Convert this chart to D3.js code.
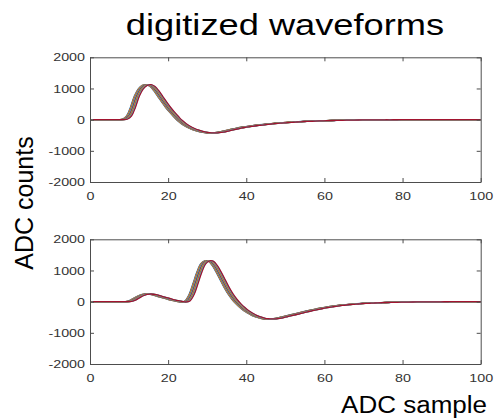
<!DOCTYPE html>
<html>
<head>
<meta charset="utf-8">
<script src="https://cdn.jsdelivr.net/npm/d3@7"></script>
<style>
  body { margin: 0; background: #fff; }
  text { font-family: "Liberation Sans", Arial, sans-serif; }
</style>
</head>
<body>
<script>
// waveform, one value per ADC sample (0..100)
let samples = d3.range(0, 101);

let waveTop = [
    0, 0, 0, 0, 0, 0, 0, 0, 0, 20,
    120, 400, 760, 990, 1100, 1125, 1060, 920, 740, 560,
    390, 240, 100, -30, -130, -210, -275, -330, -370, -400,
    -418, -425, -422, -410, -390, -360, -330, -300, -275, -252,
    -232, -213, -196, -180, -165, -150, -137, -125, -114, -104,
    -95, -86, -78, -71, -64, -58, -52, -47, -42, -38,
    -34, -31, -27, -24, -21, -18, -16, -14, -12, -10,
    -9, -8, -7, -6, -5, -4, -4, -3, -3, -2,
    -2, -1, -1, -1, -1, -1, 0, 0, 0, 0,
    0, 0, 0, 0, 0, 0, 0, 0, 0, 0,
    0
];

let waveBottom = [
    0, 0, 0, 0, 0, 0, 0, 0, 0, 0,
    10, 50, 120, 190, 235, 245, 230, 200, 165, 130,
    95, 60, 30, 5, -10, 30, 230, 580, 950, 1220,
    1310, 1290, 1150, 930, 690, 450, 240, 70, -70, -190,
    -290, -370, -440, -490, -525, -548, -555, -550, -535, -510,
    -480, -450, -420, -390, -360, -330, -300, -270, -245, -220,
    -195, -175, -155, -138, -122, -108, -96, -85, -75, -66,
    -58, -51, -45, -40, -35, -31, -27, -24, -21, -18,
    -16, -14, -12, -10, -9, -8, -7, -6, -5, -4,
    -3, -3, -2, -2, -1, -1, 0, 0, 0, 0,
    0
];

// small time offsets of the overlaid traces (in samples)
let traceShifts = [-0.65, -0.55, -0.45, -0.35, -0.25, -0.15, -0.05, 0.05, 0.15, 0.25, 0.35, 0.45, 0.55, 0.65];
let traceColors = ["#0072BD", "#D95319", "#EDB120", "#7E2F8E", "#77AC30", "#4DBEEE", "#A2142F"];

let xTicks = [0, 20, 40, 60, 80, 100];
let yTicks = [-2000, -1000, 0, 1000, 2000];

let width = 495,
    height = 418,
    stretch = 1.3;

let svg = d3.select("body").append("svg")
    .attr("width", width)
    .attr("height", height);

// widen text horizontally like in the picture
function widen(sel, k) {
    sel.each(function() {
        let w = this.getComputedTextLength();
        this.setAttribute("textLength", w * k);
        this.setAttribute("lengthAdjust", "spacingAndGlyphs");
    });
}

let plain = function(d) { return String(d); };

let x = d3.scaleLinear().domain([0, 100]).range([90, 480.7]);

function panel(wave, top, bottom) {
    let y = d3.scaleLinear().domain([-2000, 2000]).range([bottom, top]);
    let g = svg.append("g");

    let line = d3.line()
        .x(function(d) { return d[0]; })
        .y(function(d) { return d[1]; })
        .curve(d3.curveCatmullRom);

    traceShifts.forEach(function(s, i) {
        let pts = samples.map(function(t, j) { return [x(Math.min(100, Math.max(0, t + s))), y(wave[j])]; });
        g.append("path")
            .attr("d", line(pts))
            .attr("fill", "none")
            .attr("stroke", traceColors[i % traceColors.length])
            .attr("stroke-width", 1.3);
    });

    let axisColor = "#4d4d4d";

    let bx = g.append("g")
        .attr("transform", "translate(0," + bottom + ")")
        .call(d3.axisBottom(x).tickValues(xTicks).tickFormat(plain).tickSizeInner(-4).tickSizeOuter(0).tickPadding(10));
    let tx = g.append("g")
        .attr("transform", "translate(0," + top + ")")
        .call(d3.axisTop(x).tickValues(xTicks).tickSizeInner(-4).tickSizeOuter(0).tickFormat(""));
    let ly = g.append("g")
        .attr("transform", "translate(" + x(0) + ",0)")
        .call(d3.axisLeft(y).tickValues(yTicks).tickFormat(plain).tickSizeInner(-4).tickSizeOuter(0).tickPadding(9));
    let ry = g.append("g")
        .attr("transform", "translate(" + x(100) + ",0)")
        .call(d3.axisRight(y).tickValues(yTicks).tickSizeInner(-4).tickSizeOuter(0).tickFormat(""));

    [bx, tx, ly, ry].forEach(function(a) {
        a.select(".domain").attr("stroke", axisColor).attr("stroke-width", 1);
        a.selectAll(".tick line").attr("stroke", axisColor);
        a.selectAll("text")
            .attr("fill", "#333")
            .style("font-size", "11px")
            .style("font-family", "'Liberation Sans', Arial, sans-serif");
    });
    ly.selectAll(".tick text").attr("x", -5).call(widen, stretch);
    bx.selectAll(".tick text").call(widen, stretch);
}

panel(waveTop, 57.3, 182);
panel(waveBottom, 239.3, 364);

svg.append("text")
    .attr("x", 285)
    .attr("y", 35)
    .attr("text-anchor", "middle")
    .style("font-size", "29px")
    .attr("fill", "#000")
    .text("digitized waveforms")
    .call(widen, 1.25);

svg.append("text")
    .attr("transform", "translate(33,203) rotate(-90)")
    .attr("text-anchor", "middle")
    .style("font-size", "25px")
    .attr("fill", "#000")
    .text("ADC counts");

svg.append("text")
    .attr("x", 487)
    .attr("y", 413)
    .attr("text-anchor", "end")
    .style("font-size", "23px")
    .attr("fill", "#000")
    .text("ADC sample")
    .call(widen, 1.13);
</script>
</body>
</html>
